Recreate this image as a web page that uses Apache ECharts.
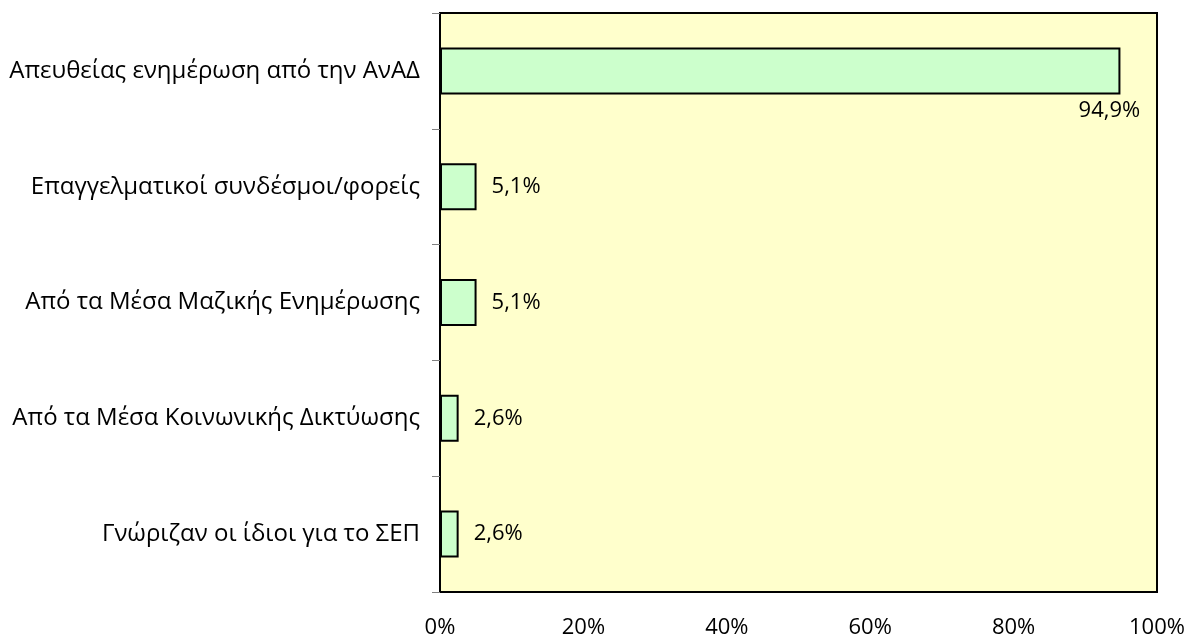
<!DOCTYPE html>
<html><head><meta charset="utf-8">
<script src="https://cdn.jsdelivr.net/npm/echarts@6/dist/echarts.min.js"></script>
<style>html,body{margin:0;padding:0;background:#fff}#c{width:1189px;height:639px}</style>
</head><body><div id="c"></div>
<script>
const categories = [
  "Απευθείας ενημέρωση από την ΑνΑΔ",
  "Επαγγελματικοί συνδέσμοι/φορείς",
  "Από τα Μέσα Μαζικής Ενημέρωσης",
  "Από τα Μέσα Κοινωνικής Δικτύωσης",
  "Γνώριζαν οι ίδιοι για το ΣΕΠ"
];
const values = [94.9, 5.1, 5.1, 2.6, 2.6];
const xTicks = [0, 20, 40, 60, 80, 100];

const FONT = "Open Sans";
const fmt = v => v.toFixed(1).replace('.', ',') + '%';

const data = values.map((v, i) => {
  const d = { value: v };
  if (i === 0) {
    d.label = { position: ['100%', '100%'], align: 'center', verticalAlign: 'top', offset: [-11, 5] };
  }
  return d;
});

const chart = echarts.init(document.getElementById('c'));
chart.setOption({
  animation: false,
  textStyle: { fontFamily: FONT },
  grid: { left: 440, top: 13, width: 717, height: 580, show: true, backgroundColor: '#FFFFCC', borderColor: '#000', borderWidth: 2, containLabel: false },
  xAxis: {
    type: 'value', min: 0, max: 100, interval: 20,
    axisLine: { show: false }, axisTick: { show: false }, splitLine: { show: false },
    axisLabel: { formatter: v => v + '%', fontSize: 22, color: '#000', margin: 25, fontFamily: FONT }
  },
  yAxis: {
    type: 'category', data: categories, inverse: true,
    axisLine: { show: true, lineStyle: { color: '#000', width: 2 } },
    axisTick: { show: true, length: 8, lineStyle: { color: '#808080', width: 1 } },
    axisLabel: { fontSize: 24, color: '#000', margin: 20, fontFamily: FONT }
  },
  series: [{
    type: 'bar', data: data, barWidth: 47,
    itemStyle: { color: '#CCFFCC', borderColor: '#000', borderWidth: 2 },
    label: { show: true, position: 'right', distance: 15, fontSize: 22, color: '#000', fontFamily: FONT, formatter: p => fmt(p.value) }
  }]
});
</script></body></html>
